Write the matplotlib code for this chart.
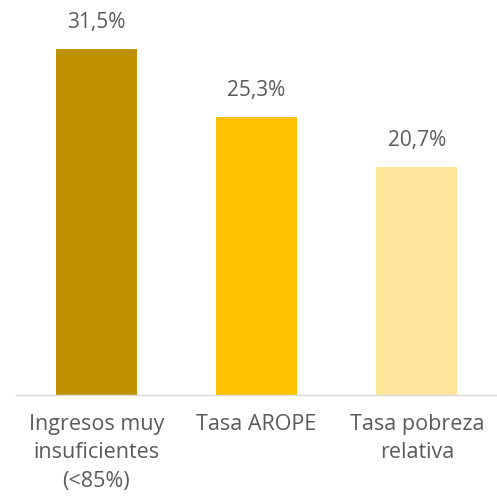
import matplotlib
matplotlib.use("Agg")
import matplotlib.pyplot as plt

categories = ["Ingresos muy\ninsuficientes\n(<85%)", "Tasa AROPE", "Tasa pobreza\nrelativa"]
values = [31.5, 25.3, 20.7]
value_labels = ["31,5%", "25,3%", "20,7%"]
colors = ["#BF9000", "#FFC000", "#FFE699"]

plt.rcParams['font.family'] = ['Open Sans', 'DejaVu Sans']

fig = plt.figure(figsize=(4.97, 5.01), dpi=100)
W, H = 497, 501
left_px, right_px = 16, 497
bottom_px, top_px = 395, 10
ax = fig.add_axes([left_px / W, (H - bottom_px) / H, (right_px - left_px) / W, (bottom_px - top_px) / H])

x = list(range(len(categories)))
bars = ax.bar(x, values, width=0.505, color=colors)
ax.set_xlim(-0.5, 2.5)
ax.set_ylim(0, 35)

for xi, v, lab in zip(x, values, value_labels):
    ax.annotate(lab, (xi, v), xytext=(0, 15), textcoords="offset points",
                ha="center", va="baseline", fontsize=15, color="#595959")

ax.set_xticks(x)
ax.set_xticklabels(categories, fontsize=15.5, color="#595959", linespacing=1.44)
ax.tick_params(axis="x", length=0, pad=14)
ax.set_yticks([])
for s in ["top", "right", "left"]:
    ax.spines[s].set_visible(False)
ax.spines["bottom"].set_color("#D9D9D9")
ax.spines["bottom"].set_linewidth(1.0)

fig.savefig("out.png", dpi=100, facecolor="white")
